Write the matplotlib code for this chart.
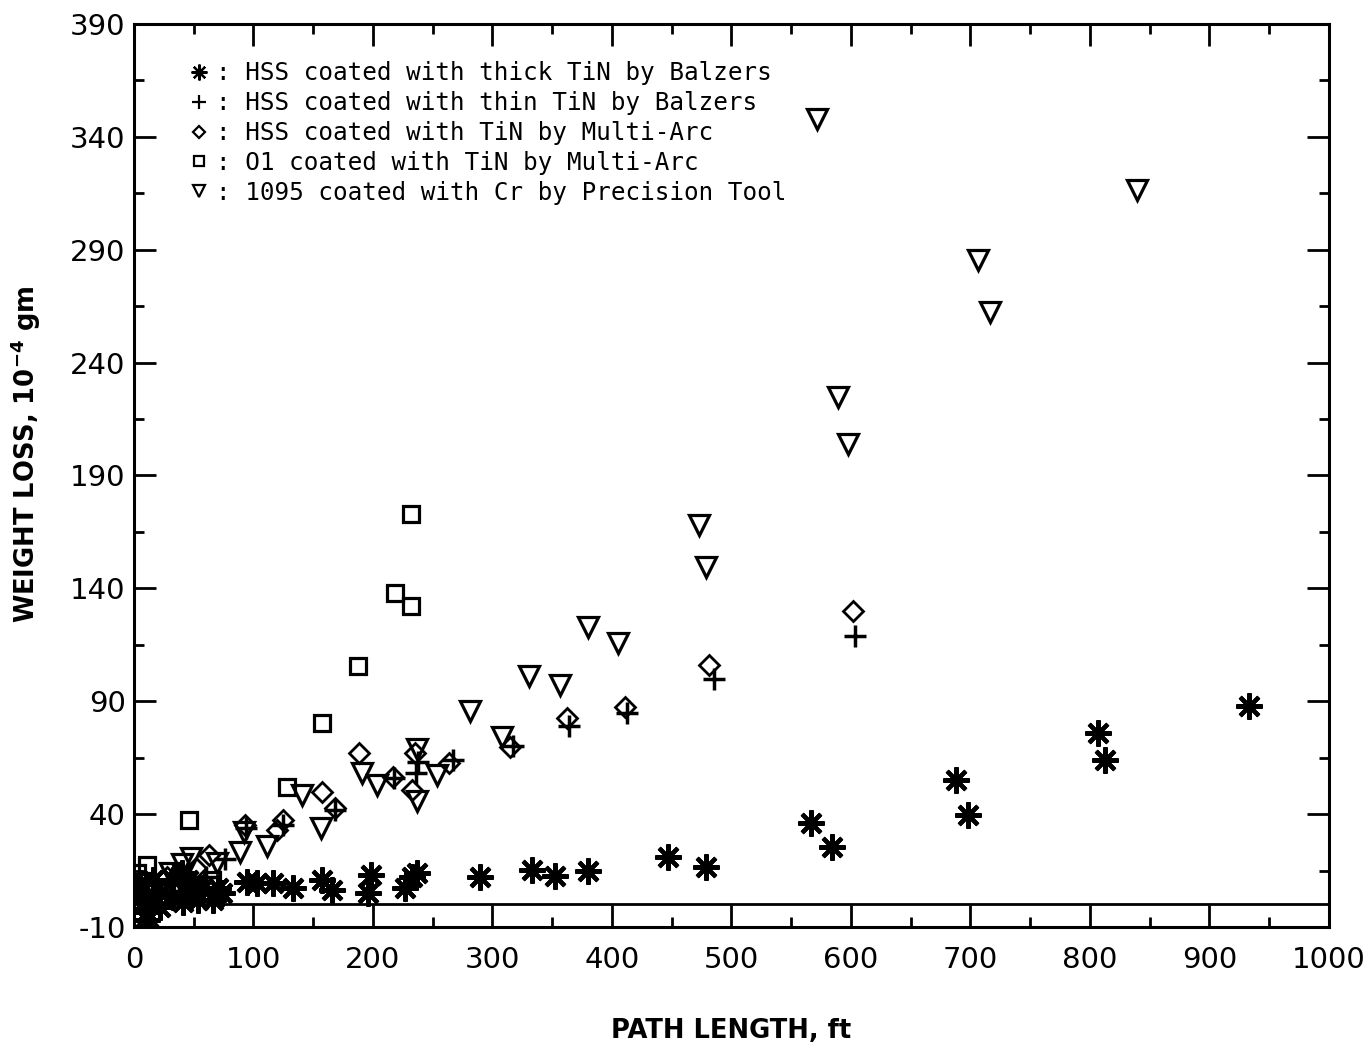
import matplotlib
matplotlib.use("Agg")
import matplotlib.pyplot as plt
from matplotlib.ticker import MultipleLocator

plt.rcParams["axes.unicode_minus"] = False

# HSS, thick TiN (Balzers)
thick_x = [933, 807, 813, 688, 698, 567, 584, 447, 479, 380, 333, 352, 290, 237, 233,
           227, 198, 196, 157, 166, 133, 116, 103, 95, 74, 70, 66, 58, 54, 45,
           44, 41, 40, 33, 33, 22, 22, 16, 11, 11, 5, 5]
thick_y = [88, 76, 64, 55, 39.6, 36, 25.4, 21, 16.6, 14.8, 15.2, 12.6, 12, 14, 12,
           7.3, 13, 5, 10.8, 6.4, 7.3, 9.5, 9.5, 10, 5, 7.3, 2, 7.3, 2, 10.8,
           5, 1, 14, 10.8, 3.3, 5, -1, 10.8, -3.4, -7, 9.5, 3.3]

# HSS, thin TiN (Balzers)
thin_x = [603, 485, 413, 364, 317, 267, 238, 236, 218, 168, 125, 94, 76, 60, 48,
          38, 30, 22, 14, 8, 3]
thin_y = [119, 100, 85, 79, 70, 64, 63, 58, 56, 42, 35, 34, 20, 12, 8,
          6, 9, 4, 2, -3, 3]

# HSS, TiN (Multi-Arc)
marc_x = [602, 481, 411, 362, 315, 188, 157, 217, 233, 235, 264, 168, 125, 120, 93,
          63, 52, 28, 18, 6, 11]
marc_y = [130, 106, 87.5, 82.6, 69.7, 67, 50, 56.4, 50.7, 67, 62.6, 42.7, 37.4, 33, 35,
          22, 16, 12, 8, 5, -9]

# O1, TiN (Multi-Arc)
o1_x = [232, 218.5, 232, 187.5, 157, 128, 46, 11, 65, 2.5, 3, 8, 15, 40, 5]
o1_y = [173, 138, 132, 105.6, 80.4, 52, 37.4, 17.5, 10.8, 14, 7, 10, 5, 8, 2]

# 1095, Cr (Precision Tool)
cr_x = [572, 839, 706, 716, 589, 597.5, 473, 479, 380, 405, 330.5, 356.5, 281, 308,
        141, 156.5, 191, 203, 237, 237, 253.5, 111.5, 92, 89, 69.5, 48, 40, 30]
cr_y = [348, 316.5, 285.5, 262.4, 224.8, 204, 168, 149.5, 123, 116, 101, 97, 85.7, 74.2,
        48.5, 34, 58, 53, 69, 46, 57.3, 26, 32, 23, 18.4, 20.5, 18, 14]

labels = [": HSS coated with thick TiN by Balzers",
          ": HSS coated with thin TiN by Balzers",
          ": HSS coated with TiN by Multi-Arc",
          ": O1 coated with TiN by Multi-Arc",
          ": 1095 coated with Cr by Precision Tool"]

fig = plt.figure(figsize=(13.71, 10.48), dpi=100)
ax = fig.add_axes([0.0977, 0.1155, 0.8716, 0.8616])

common = dict(linestyle="none", color="black", mfc="none")
h_o1, = ax.plot(o1_x, o1_y, marker="s", ms=12, mew=2.3, **common)
h_marc, = ax.plot(marc_x, marc_y, marker="D", ms=10, mew=2.0, **common)
h_cr, = ax.plot(cr_x, cr_y, marker="v", ms=14.5, mew=2.3, **common)
h_thin, = ax.plot(thin_x, thin_y, marker="+", ms=16, mew=2.5, **common)
h_thick, = ax.plot(thick_x, thick_y, marker=(8, 2, 0), ms=19, mew=3.0, **common)

ax.axhline(0, color="black", lw=2.0)

ax.set_xlim(0, 1000)
ax.set_ylim(-10, 390)
ax.xaxis.set_major_locator(MultipleLocator(100))
ax.xaxis.set_minor_locator(MultipleLocator(50))
ax.set_yticks(range(-10, 391, 50))
ax.set_yticks(range(15, 391, 50), minor=True)

for s in ax.spines.values():
    s.set_linewidth(2.2)
ax.tick_params(which="major", direction="in", length=16, width=2,
               top=True, right=True, labelsize=21)
ax.tick_params(which="minor", direction="in", length=7.5, width=2,
               top=True, right=True)
ax.tick_params(axis="x", pad=14)
ax.tick_params(axis="y", pad=6)

ax.set_xlabel("PATH LENGTH, ft", fontsize=18.5, fontweight="bold")
ax.xaxis.set_label_coords(0.5, -0.101)
ax.set_ylabel(r"WEIGHT LOSS, $\mathregular{10^{-4}}$ gm", fontsize=18.5, fontweight="bold")
ax.yaxis.set_label_coords(-0.076, 0.524)

leg = ax.legend([h_thick, h_thin, h_marc, h_o1, h_cr], labels,
                loc="upper left", bbox_to_anchor=(0.035, 0.972),
                frameon=False, markerscale=0.6, handlelength=0.9,
                handletextpad=0.25, labelspacing=0.24, borderpad=0,
                prop={"family": "DejaVu Sans Mono", "size": 17.5})
for h in leg.legend_handles:
    h.set_markeredgewidth(1.6)

fig.savefig("out.png", dpi=100)
